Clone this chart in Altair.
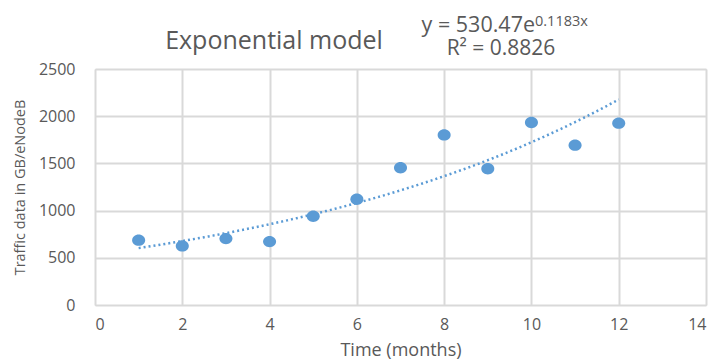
import altair as alt
import pandas as pd

months = [1, 2, 3, 4, 5, 6, 7, 8, 9, 10, 11, 12]
traffic = [687, 626, 704, 672, 940, 1120, 1454, 1802, 1443, 1933, 1693, 1926]
x_ticks = [0, 2, 4, 6, 8, 10, 12, 14]
y_ticks = [0, 500, 1000, 1500, 2000, 2500]

title_text = "Exponential model"
eq_main = "y = 530.47e"
eq_sup = "0.1183x"
r2_text = "R² = 0.8826"

df = pd.DataFrame({"month": months, "traffic": traffic})

FONT = "Open Sans"
GRAY = "#595959"
BLUE = "#5b9bd5"

xs = alt.Scale(domain=[0, 14], nice=False)
ys = alt.Scale(domain=[0, 2500], nice=False)
x_axis = alt.Axis(values=x_ticks, title="Time (months)", grid=True,
                  gridColor="#d9d9d9", gridWidth=2, domain=False, ticks=False,
                  labelPadding=11, labelFontSize=16, labelColor=GRAY,
                  labelFont=FONT, titleFont=FONT, titleFontSize=18,
                  titleFontWeight="normal", titleColor=GRAY, titlePadding=9)
y_axis = alt.Axis(values=y_ticks, title="Traffic data in GB/eNodeB", grid=True,
                  gridColor="#d9d9d9", gridWidth=2, domain=False, ticks=False,
                  labelPadding=20, labelFontSize=16, labelColor=GRAY, format="d",
                  labelFont=FONT, titleFont=FONT, titleFontSize=14.5,
                  titleFontWeight="normal", titleColor=GRAY, titlePadding=11)

base = alt.Chart(df)

trend = (
    base.transform_calculate(logy="log(datum.traffic)")
    .transform_regression("month", "logy", method="linear", params=True)
    .transform_calculate(xs="sequence(1, 12.001, 0.1)")
    .transform_flatten(["xs"])
    .transform_calculate(fit="exp(datum.coef[0] + datum.coef[1] * datum.xs)")
    .mark_line(color=BLUE, strokeDash=[2, 3], strokeWidth=2.5)
    .encode(x=alt.X("xs:Q", scale=xs, axis=x_axis), y=alt.Y("fit:Q", scale=ys, axis=y_axis))
)

ellipse = "M -1.15 0 A 1.15 1 0 1 0 1.15 0 A 1.15 1 0 1 0 -1.15 0 Z"
points = base.mark_point(filled=True, size=128, color=BLUE, opacity=1, shape=ellipse).encode(
    x=alt.X("month:Q", scale=xs, axis=x_axis), y=alt.Y("traffic:Q", scale=ys, axis=y_axis)
)

def label(text, xp, yp, size, align="left"):
    return alt.Chart(pd.DataFrame({"t": [text]})).mark_text(
        text=text, font=FONT, fontSize=size, color=GRAY, align=align, baseline="alphabetic"
    ).encode(x=alt.value(xp), y=alt.value(yp))

title = label(title_text, 179, -20, 25, "center")
eq1 = label(eq_main, 440, -37.5, 21.5, "right")
eq2 = label(eq_sup, 440, -43, 14.5, "left")
r2 = label(r2_text, 406, -14, 21, "center")

chart = alt.layer(trend, points, title, eq1, eq2, r2).properties(
    width=611, height=236,
    autosize=alt.AutoSizeParams(type="none"),
    padding={"left": 87, "top": 61, "right": 4, "bottom": 56},
).configure_view(stroke="#d0d0d0", strokeWidth=2).configure(background="white")

chart.save("out.html", embed_options={"renderer": "svg", "actions": False})
